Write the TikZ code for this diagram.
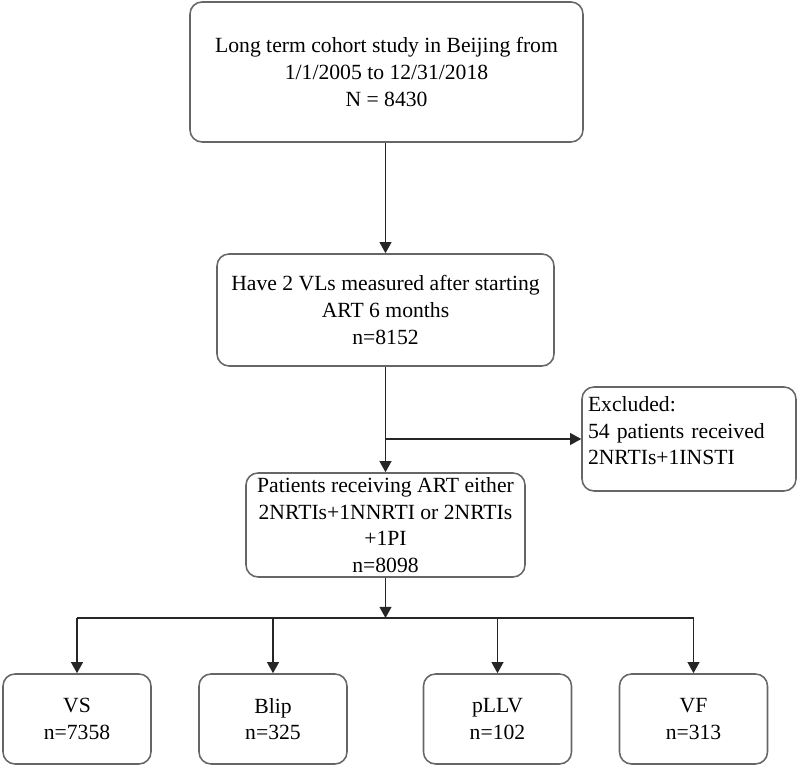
\documentclass[tikz,border=0pt]{standalone}
\usepackage{fontspec}
\setmainfont{Liberation Serif}
\usetikzlibrary{arrows.meta,calc}
\tikzset{
         box/.style=
          {
           rectangle,
           rounded corners=.3cm,
           draw=black!60,
           line width=1.1pt,
           align=center,
           inner sep=0pt,
           font=\fontsize{15.4}{18.9}\selectfont
          },
         arr/.style=
          {
           -{Triangle[length=.28cm,width=.3cm]},
           line width=1pt,
           black!85
          }
        }

\begin{document}
\begin{tikzpicture}
\useasboundingbox(0,0)rectangle(20,19.325);
%main boxes
\node[box,minimum width=9.825cm,minimum height=3.5cm](cohort)at(9.6625,17.525){Long term cohort study in Beijing from\\1/1/2005 to 12/31/2018\\N = 8430};
\node[box,minimum width=8.425cm,minimum height=2.8cm](measured)at(9.6375,11.575){Have 2 VLs measured after starting\\ART 6 months\\n=8152};
\node[box,minimum width=6.975cm,minimum height=2.6cm](regimen)at(9.6375,6.2){Patients receiving ART either\\2NRTIs+1NNRTI or 2NRTIs\\+1PI\\n=8098};
\node[box,align=left,text width=5.05cm,inner xsep=.15cm,minimum height=2.6cm](excluded)at(17.225,8.35){Excluded:\\54 patients received\\2NRTIs+1INSTI\\[-.26cm]\mbox{}};

%outcome boxes
\node[box,minimum width=3.7cm,minimum height=2.25cm](vs)at(1.925,1.35){VS\\n=7358};
\node[box,minimum width=3.7cm,minimum height=2.25cm](blip)at(6.825,1.35){Blip\\n=325};
\node[box,minimum width=3.7cm,minimum height=2.25cm](pllv)at(12.4375,1.35){pLLV\\n=102};
\node[box,minimum width=3.7cm,minimum height=2.25cm](vf)at(17.3375,1.35){VF\\n=313};

%arrows
\coordinate(bus)at(9.6375,3.875);
\draw[arr](cohort.south -| measured)--(measured.north);
\draw[arr](measured.south)--(regimen.north);
\draw[arr](measured.south |- excluded.west)--(excluded.west);
\draw[arr](regimen.south)--(bus);
\draw[line width=1pt,black!85](vs |- bus)--(vf |- bus);
\foreach \n in {vs,blip,pllv,vf}{
\draw[arr](\n |- bus)--(\n.north);
}
\end{tikzpicture}
\end{document}
